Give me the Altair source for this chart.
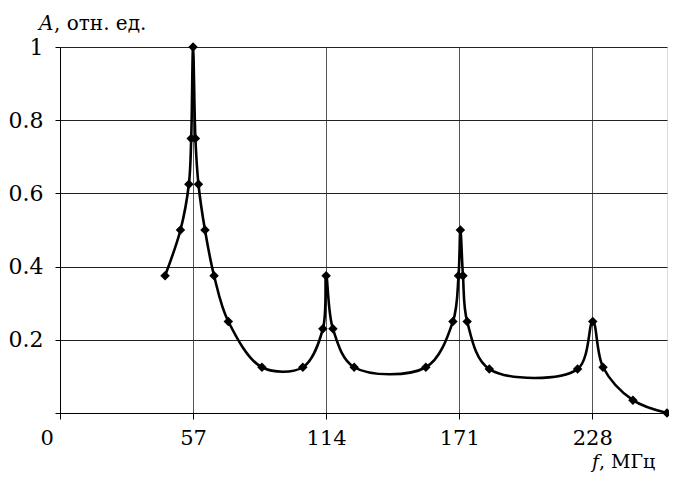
import altair as alt
import pandas as pd

# frequency, MHz
freq = [45.0, 51.6, 55.2, 56.2, 57.0, 58.0, 59.3, 62.1, 66.0, 72.1, 86.5,
        104.0, 112.6, 114.0, 116.9, 126.0,
        156.7, 168.3, 170.7, 171.5, 172.6, 174.4, 183.9,
        221.7, 228.2, 232.6, 245.4, 260.0]
# relative amplitude
amp = [0.375, 0.5, 0.625, 0.75, 1.0, 0.75, 0.625, 0.5, 0.375, 0.25, 0.125,
       0.125, 0.23, 0.375, 0.23, 0.125,
       0.125, 0.25, 0.375, 0.5, 0.375, 0.25, 0.12,
       0.12, 0.25, 0.125, 0.035, 0.0]

x_ticks = [0, 57, 114, 171, 228]
y_ticks = [0, 0.1, 0.2, 0.3, 0.4, 0.5, 0.6, 0.7, 0.8, 0.9, 1.0]

FONT = "DejaVu Serif"

df = pd.DataFrame({"f": freq, "A": amp})

x_enc = alt.X(
    "f:Q",
    scale=alt.Scale(domain=[0, 260], nice=False, zero=False),
    axis=alt.Axis(
        values=x_ticks, title=None, grid=True, gridColor="#555555", gridWidth=1,
        tickSize=6, tickColor="black", domainColor="black",
        labelFont=FONT, labelFontSize=21, labelColor="black", labelPadding=8,
        labelOffset={"condition": {"test": "datum.value === 0", "value": -20}, "value": 0},
    ),
)
y_enc = alt.Y(
    "A:Q",
    scale=alt.Scale(domain=[0, 1], nice=False),
    axis=alt.Axis(
        values=y_ticks, title=None, grid=True, gridColor="#222222", gridWidth=1,
        tickSize=5, tickColor="black", domainColor="black",
        labelFont=FONT, labelFontSize=22, labelColor="black", labelPadding=12,
        labelExpr="(datum.value > 0.05 && round(datum.value * 10) % 2 == 0) ? format(datum.value, '~g') : ''",
    ),
)

base = alt.Chart(df)
line = base.mark_line(interpolate="catmull-rom", color="black", strokeWidth=2.6).encode(x=x_enc, y=y_enc)
pts = base.mark_point(shape="diamond", filled=True, color="black", size=90, opacity=1).encode(x="f:Q", y="A:Q")


def label(txt, x, y, size=20, italic=False):
    return alt.Chart(pd.DataFrame({"t": [txt]})).mark_text(
        font=FONT, fontSize=size, fontStyle="italic" if italic else "normal",
        align="left", baseline="middle", color="black",
    ).encode(text="t:N", x=alt.value(x), y=alt.value(y))


t1 = label("A", -21, -23, italic=True)
t2 = label(", отн. ед.", -6, -23)
t3 = label("f", 532, 415, size=19, italic=True)
t4 = label(", МГц", 539, 415, size=19)

chart = alt.layer(line, pts, t1, t2, t3, t4).properties(
    width=607, height=366,
    autosize=alt.AutoSizeParams(type="none"),
    padding={"left": 52, "top": 39, "right": 2, "bottom": 60},
).configure_view(stroke="black", strokeWidth=1).configure(background="white")

chart.save("out.html", embed_options={"renderer": "svg", "actions": False})
